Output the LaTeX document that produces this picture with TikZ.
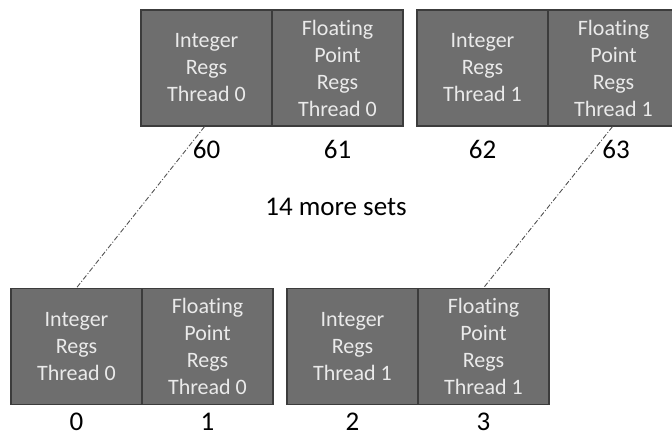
\documentclass[tikz,border=0pt]{standalone}
\usepackage{fontspec}
\setmainfont[Ligatures=NoCommon]{Carlito}
\definecolor{cellfill}{HTML}{6E6E6E}
\definecolor{cellborder}{HTML}{3C3C3C}
\definecolor{celltext}{HTML}{EAEAEA}
\definecolor{linkgray}{HTML}{555555}
\begin{document}
\begin{tikzpicture}[x=1pt,y=-1pt,
  cell/.style={draw=cellborder, fill=cellfill, line width=1.2pt,
    minimum width=131pt, minimum height=116pt, inner sep=0pt,
    text=celltext, align=center, font=\fontsize{22}{27}\selectfont},
  num/.style={inner sep=0pt, font=\fontsize{27}{30}\selectfont, text=black},
  link/.style={draw=linkgray, line width=0.9pt, dash pattern=on 5pt off 2pt on 1pt off 2pt}]
\useasboundingbox (0,0) rectangle (672,437);
\clip (0,0) rectangle (672,437);
% top row
\node[cell] (int60) at (206.5,68) {Integer\\Regs\\Thread 0};
\node[cell] (fp61)  at (337.5,68) {Floating\\Point\\Regs\\Thread 0};
\node[cell] (int62) at (482.5,68) {Integer\\Regs\\Thread 1};
\node[cell] (fp63)  at (613.5,68) {Floating\\Point\\Regs\\Thread 1};
% bottom row
\node[cell] (int0) at (76.5,346.5)  {Integer\\Regs\\Thread 0};
\node[cell] (fp1)  at (207.5,346.5) {Floating\\Point\\Regs\\Thread 0};
\node[cell] (int2) at (352.5,346.5) {Integer\\Regs\\Thread 1};
\node[cell] (fp3)  at (483.5,346.5) {Floating\\Point\\Regs\\Thread 1};
% numbers
\node[num] (n60) at (206.5,149) {60};
\node[num] (n61) at (337.5,149) {61};
\node[num] (n62) at (482.5,149) {62};
\node[num] (n63) at (616,149) {63};
\node[num] (n0) at (76.5,422) {0};
\node[num] (n1) at (207.5,422) {1};
\node[num] (n2) at (352.5,422) {2};
\node[num] (n3) at (483.5,422) {3};
\node[num] (more) at (336,207) {14 more sets};
% links
\draw[link] ([xshift=-2pt]int60.south) -- (int0.north);
\draw[link] ([xshift=-1pt]fp63.south) -- (fp3.north);
\end{tikzpicture}
\end{document}
